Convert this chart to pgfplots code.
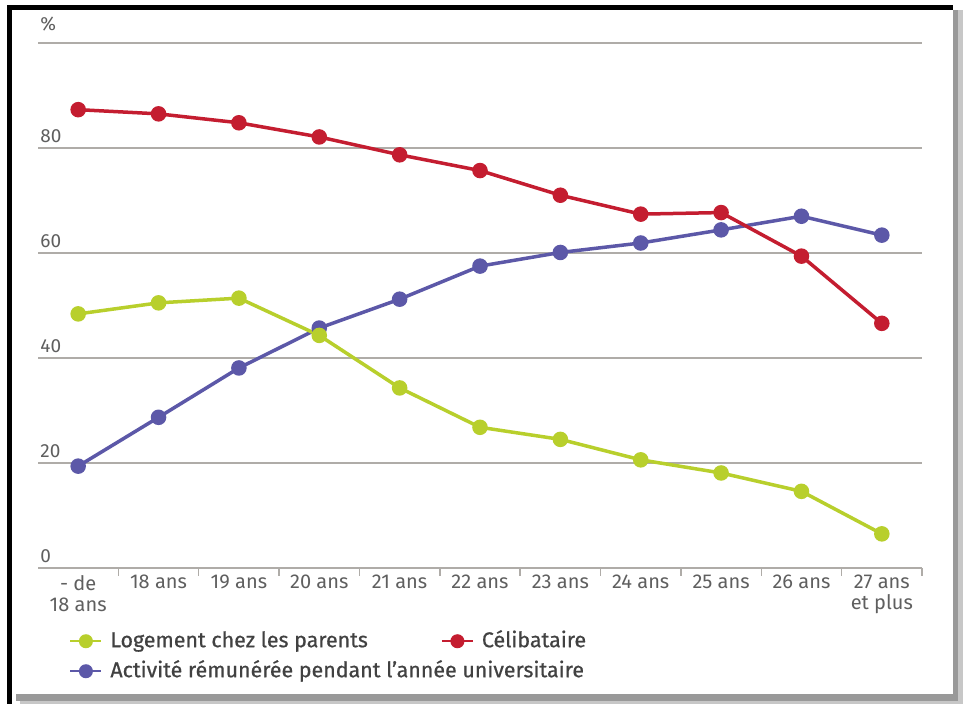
\documentclass[border=0pt]{standalone}
\usepackage{fontspec}
\setmainfont{Fira Sans}
\newfontfamily\legfont[FakeBold=0.6]{Fira Sans}
\usepackage{pgfplots}
\pgfplotsset{compat=1.18}
\definecolor{cred}{RGB}{196,29,48}
\definecolor{cgreen}{RGB}{184,207,44}
\definecolor{cblue}{RGB}{92,88,168}
\definecolor{cgrid}{RGB}{175,172,168}
\definecolor{ctick}{RGB}{95,95,95}
\definecolor{clegend}{RGB}{65,65,65}
\begin{document}
\begin{tikzpicture}
\path (0,0) rectangle (481.5pt,352pt);
% card, shadow and frame
\fill[black!22] (10pt,0pt) rectangle (481.5pt,347pt);
\fill[black!40] (8pt,1.5pt) rectangle (479pt,347pt);
\fill[white] (6pt,5pt) rectangle (476.5pt,349pt);
\fill[black] (3.5pt,347pt) rectangle (476.5pt,349.5pt);
\fill[black] (3.5pt,0pt) rectangle (6pt,349.5pt);
\begin{axis}[
  at={(19pt,68pt)}, anchor=south west,
  scale only axis, width=442pt, height=262.5pt,
  xmin=-0.5, xmax=10.5, ymin=0, ymax=100,
  axis line style={draw=none},
  xtick={0,...,10},
  xticklabels={{- de\\18 ans},18 ans,19 ans,20 ans,21 ans,22 ans,23 ans,24 ans,25 ans,26 ans,{27 ans\\et plus}},
  minor xtick={0.5,1.5,...,10.5},
  xtick pos=left, ytick pos=left,
  ytick={0,20,...,100},
  yticklabels={0,20,40,60,80,\raisebox{3.5pt}{\%}},
  ymajorgrids, grid style={cgrid, line width=0.75pt},
  major tick length=0pt, minor tick length=4pt, tick align=outside,
  minor x tick style={cgrid, line width=0.75pt},
  xticklabel style={font=\fontsize{10}{10.5}\selectfont, text=ctick, align=center, anchor=north, inner sep=0pt, yshift=-3.5pt},
  yticklabel style={font=\fontsize{9.5}{10}\selectfont, text=ctick, anchor=south west, inner sep=0pt, xshift=1pt, yshift=2.5pt},
  legend columns=2,
  legend cell align=left,
  legend style={at={(0.0351,-0.114)}, anchor=north west, draw=none, fill=none,
    inner sep=0pt, font=\legfont\fontsize{10.7}{12}\selectfont, text=clegend, row sep=2pt,
    nodes={inner xsep=4pt, inner ysep=1pt, text height=8.5pt, text depth=2.5pt},
    /tikz/every even column/.append style={column sep=32.5pt}},
  legend image code/.code={\draw[mark repeat=2,mark phase=2,#1,line width=1pt,mark size=3pt] plot coordinates {(0pt,0pt) (7.75pt,0pt) (15.5pt,0pt)};},
  every axis plot/.append style={line width=1.75pt, mark=*, mark size=3pt},
]
\addplot[cblue, forget plot] coordinates {(0,19.4) (1,28.7) (2,38.1) (3,45.7) (4,51.2) (5,57.5) (6,60.1) (7,61.9) (8,64.4) (9,67.0) (10,63.4)};
\addplot[cgreen] coordinates {(0,48.4) (1,50.5) (2,51.4) (3,44.3) (4,34.3) (5,26.8) (6,24.5) (7,20.6) (8,18.1) (9,14.6) (10,6.5)};
\addlegendentry{Logement chez les parents}
\addplot[cred] coordinates {(0,87.3) (1,86.5) (2,84.8) (3,82.1) (4,78.7) (5,75.7) (6,71.0) (7,67.4) (8,67.7) (9,59.4) (10,46.6)};
\addlegendentry{Célibataire}
\addlegendimage{cblue, line width=1.75pt, mark=*, mark size=3pt}
\addlegendentry{\makebox[0pt][l]{Activité rémunérée pendant l’année universitaire}}
\end{axis}
\end{tikzpicture}
\end{document}
